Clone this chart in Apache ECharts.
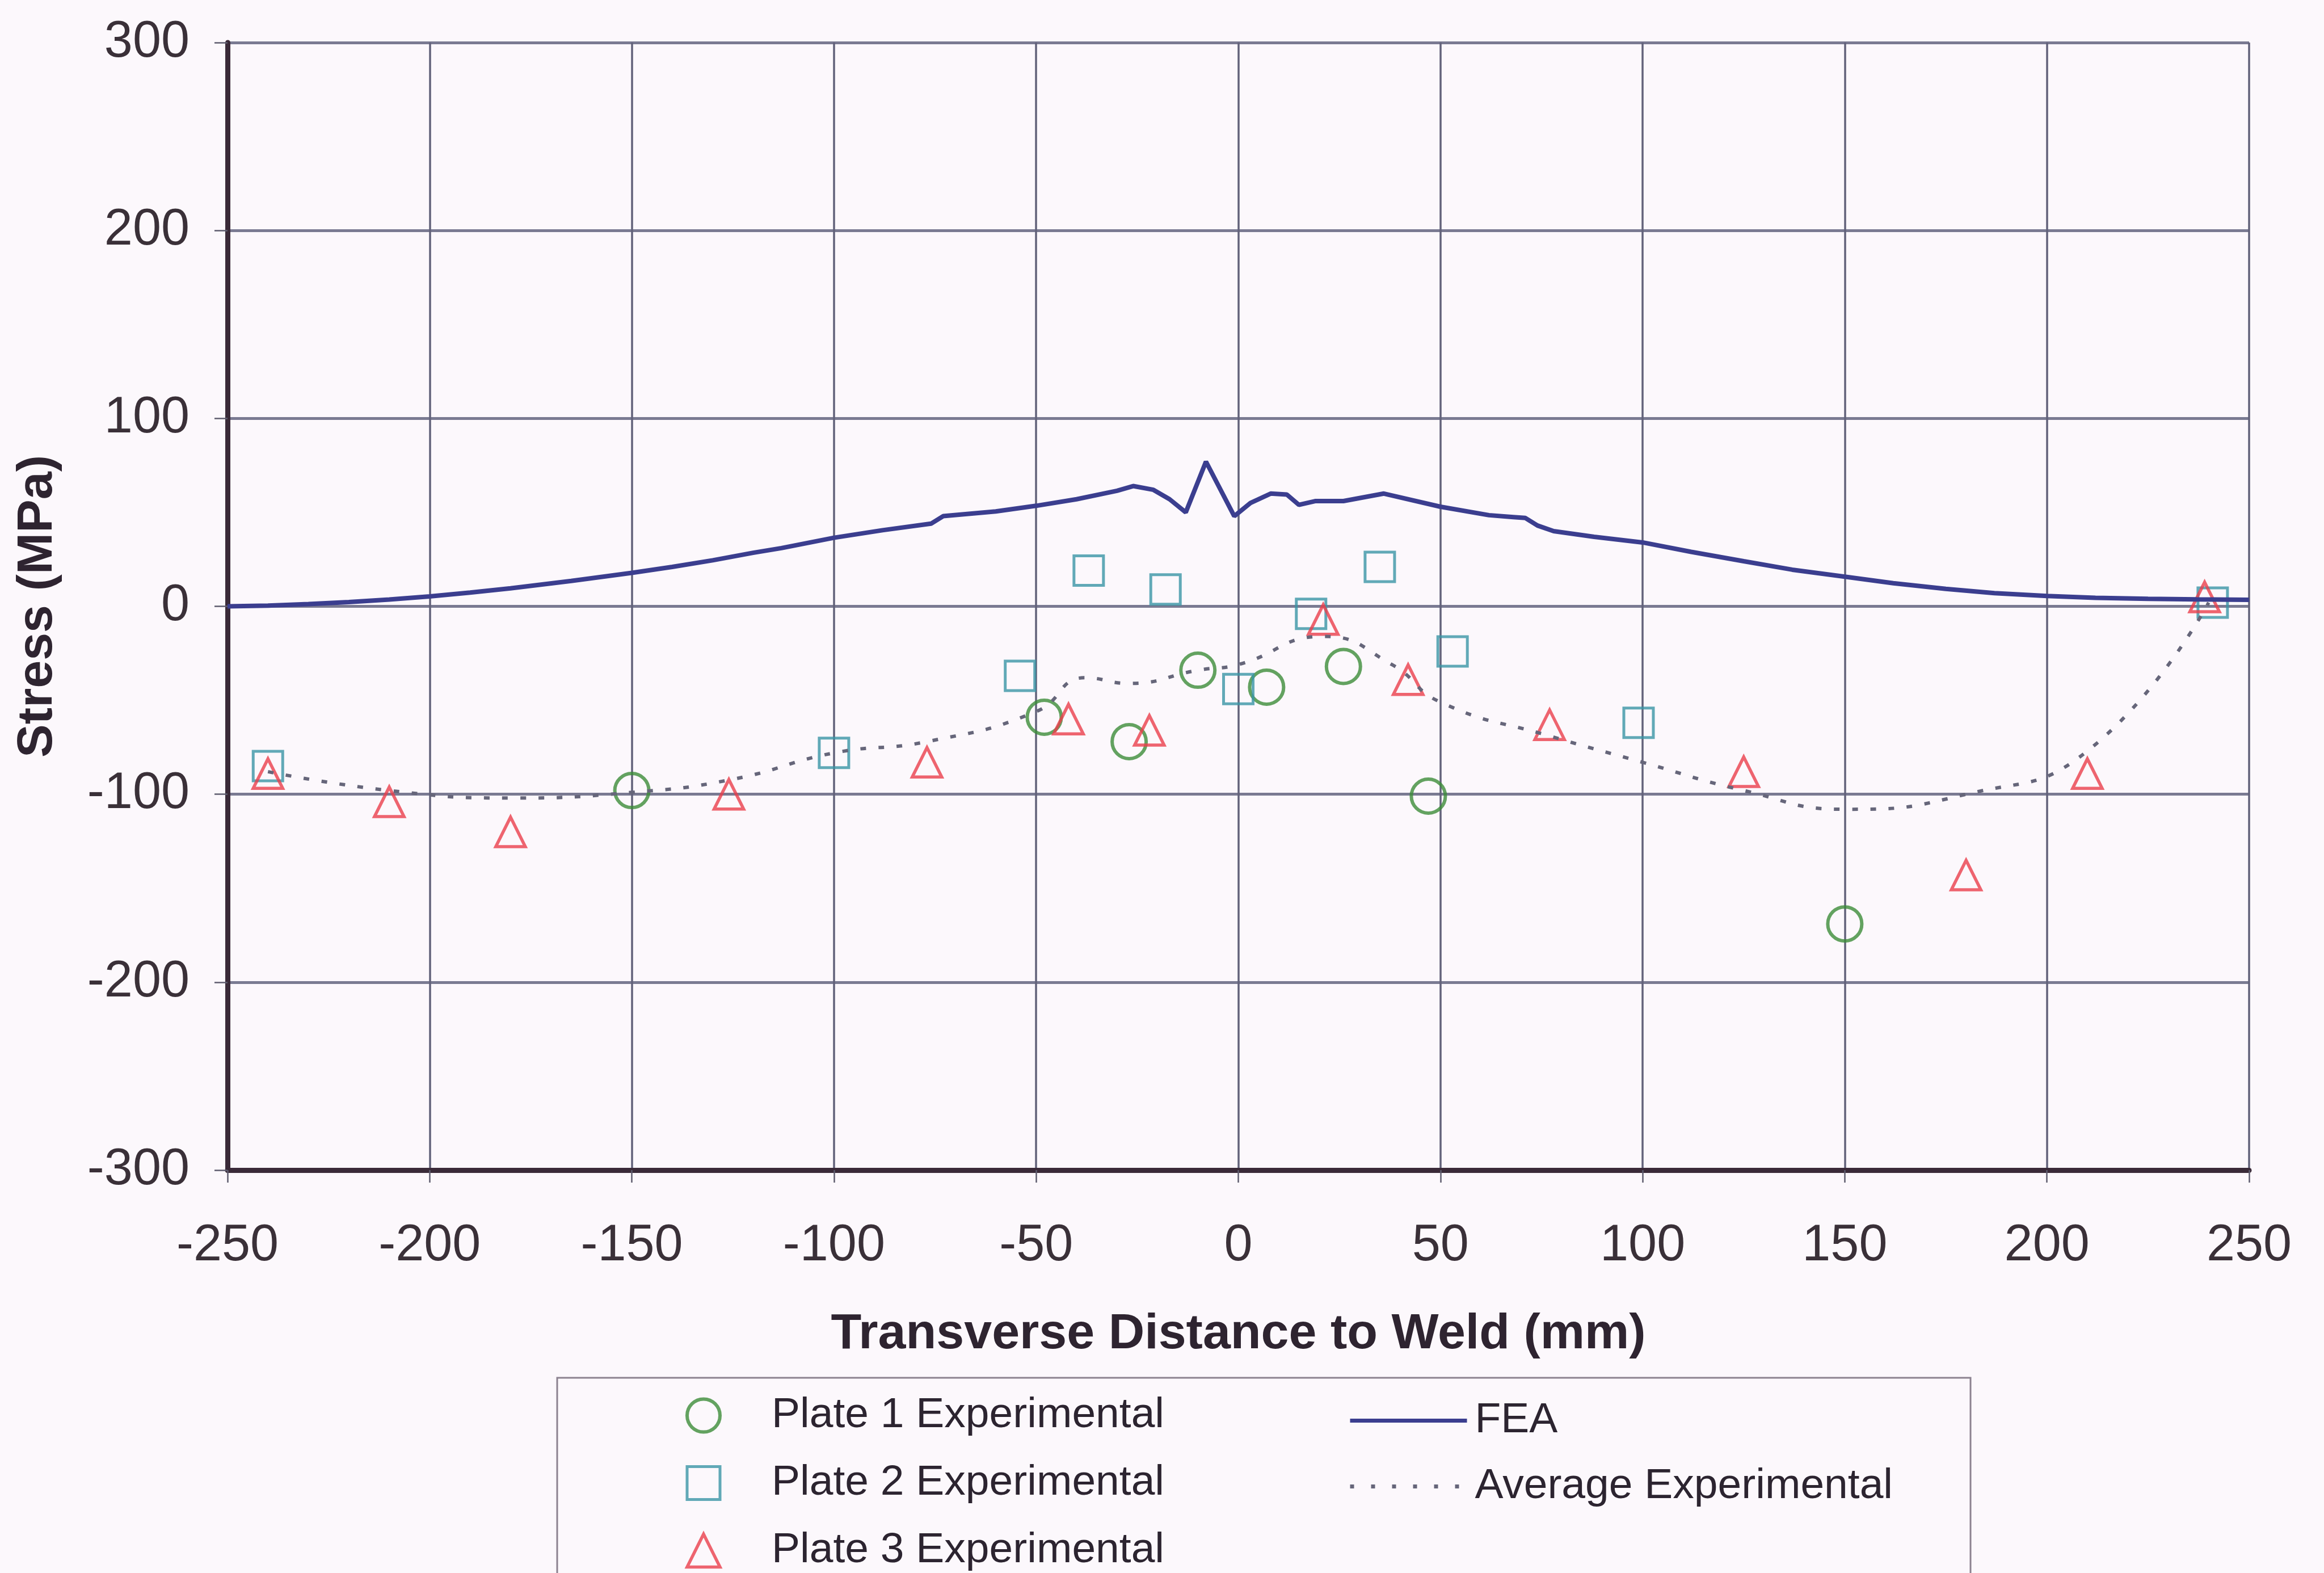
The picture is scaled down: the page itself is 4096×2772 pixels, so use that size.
<!DOCTYPE html>
<html>
<head>
<meta charset="utf-8">
<script src="https://cdn.jsdelivr.net/npm/echarts@6/dist/echarts.min.js"></script>
<style>
  html, body { margin: 0; padding: 0; background: #fcf8fc; }
  #chart { width: 4096px; height: 2772px; }
</style>
</head>
<body>
<div id="chart"></div>
<script>
// Measured residual stress, three plates (x = transverse distance in mm, y = stress in MPa)
const plate1X = [-150, -48, -27, -10, 7, 26, 47, 150];
const plate1Y = [-98, -59, -72, -34, -43, -32, -101, -169];

const plate2X = [-240, -100, -54, -37, -18, 0, 18, 35, 53, 99, 241];
const plate2Y = [-85, -78, -37, 19, 9, -44, -4, 21, -24, -62, 2];

const plate3X = [-240, -210, -180, -126, -77, -42, -22, 21, 42, 77, 125, 180, 210, 239];
const plate3Y = [-89, -104, -120, -100, -83, -60, -66, -7, -39, -63, -88, -143, -89, 5];

// Finite element prediction
const feaX = [-250, -240, -230, -220, -210, -200, -190, -180, -165, -150, -140, -130, -120, -113, -100, -88, -76, -73, -60, -50, -40, -30, -26, -21, -17, -13, -8, -1, 3, 8, 12, 15, 19, 26, 36, 50, 62, 68, 71, 74, 78, 88, 100, 112, 125, 137, 150, 162, 175, 187, 200, 212, 225, 237, 250];
const feaY = [0, 0.4, 1.2, 2.3, 3.6, 5.3, 7.3, 9.6, 13.5, 17.8, 21, 24.5, 28.5, 31, 36.5, 40.5, 44, 48, 50.5, 53.5, 57, 61.5, 64, 62, 57, 50, 77, 48, 55, 60, 59.5, 54, 56, 56, 60, 53, 48.5, 47.5, 47, 43, 40, 37, 34, 29, 24, 19.5, 15.8, 12.3, 9.3, 7, 5.5, 4.5, 4, 3.7, 3.5];

// Average of the experimental plates
const avgX = [-240, -210, -180, -150, -125, -100, -77, -50, -38, -27, -10, 0, 21, 38, 50, 77, 100, 125, 150, 180, 210, 240];
const avgY = [-88, -98, -102, -99, -92, -78, -72, -56, -38, -41, -34, -31, -16, -31, -51, -69, -83, -98, -108, -100, -77, 2];

const FONT = '"Liberation Sans", Arial, sans-serif';
const GREEN = '#3c8c38';
const TEAL = '#3a95a5';
const RED = '#ea3f4b';
const NAVY = '#3b3e8f';
const DOTS = '#66667a';
const INK = '#3a3038';

const pair = (xs, ys) => xs.map((x, i) => [x, ys[i]]);

const chart = echarts.init(document.getElementById('chart'), null, { renderer: 'canvas' });

chart.setOption({
  animation: false,
  backgroundColor: '#fcf8fc',
  grid: { left: 401, right: 132, top: 75, bottom: 710, containLabel: false },
  xAxis: {
    type: 'value', min: -250, max: 250, interval: 50,
    name: 'Transverse Distance to Weld (mm)',
    nameLocation: 'middle', nameGap: 246,
    nameTextStyle: { fontFamily: FONT, fontSize: 88, fontWeight: 'bold', color: '#2e2430' },
    axisLine: { show: true, onZero: false, lineStyle: { color: '#3a2a38', width: 9 } },
    axisTick: { show: true, inside: false, length: 22, lineStyle: { color: '#5e5c6e', width: 2.5 } },
    axisLabel: { margin: 89, fontFamily: FONT, fontSize: 90, color: INK },
    splitLine: { show: true, lineStyle: { color: '#62627a', width: 3.5 } }
  },
  yAxis: {
    type: 'value', min: -300, max: 300, interval: 100,
    name: 'Stress (MPa)',
    nameLocation: 'middle', nameGap: 290, nameRotate: 90,
    nameTextStyle: { fontFamily: FONT, fontSize: 88, fontWeight: 'bold', color: '#2e2430' },
    axisLine: { show: true, onZero: false, lineStyle: { color: '#3a2a38', width: 9 } },
    axisTick: { show: true, inside: false, length: 23, lineStyle: { color: '#5e5c6e', width: 2.5 } },
    axisLabel: { margin: 67, fontFamily: FONT, fontSize: 90, color: INK },
    splitLine: { show: true, lineStyle: { color: '#7a7a92', width: 5 } }
  },
  legend: [
    {
      orient: 'vertical', left: 1208, top: 2457, height: 340, padding: 0,
      itemWidth: 58, itemHeight: 58, itemGap: 44, selectedMode: false,
      textStyle: { fontFamily: FONT, fontSize: 75, color: '#2c2430', lineHeight: 60, padding: [0, 0, 0, 86] },
      data: [
        { name: 'Plate 1 Experimental', icon: 'circle', itemStyle: { color: 'rgba(0,0,0,0)', borderColor: GREEN, borderWidth: 6 } },
        { name: 'Plate 2 Experimental', icon: 'rect', itemStyle: { color: 'rgba(0,0,0,0)', borderColor: TEAL, borderWidth: 5 } },
        { name: 'Plate 3 Experimental', icon: 'triangle', itemStyle: { color: 'rgba(0,0,0,0)', borderColor: RED, borderWidth: 5.5 } }
      ]
    },
    {
      orient: 'vertical', left: 2376, top: 2466, height: 300, padding: 0,
      itemWidth: 206, itemHeight: 14, itemGap: 41, selectedMode: false,
      textStyle: { fontFamily: FONT, fontSize: 75, color: '#2c2430', lineHeight: 60, padding: [0, 0, 0, 9] },
      data: [
        { name: 'FEA', itemStyle: { color: NAVY, opacity: 0 }, lineStyle: { color: NAVY, width: 7, type: 'solid' } },
        { name: 'Average Experimental', itemStyle: { color: DOTS, opacity: 0 }, lineStyle: { color: DOTS, width: 7, type: [7, 30] } }
      ]
    }
  ],
  graphic: [
    {
      type: 'rect', silent: true, z: 0,
      shape: { x: 982, y: 2428, width: 2491, height: 500 },
      style: { fill: 'none', stroke: '#8c8290', lineWidth: 3 }
    }
  ],
  series: [
    {
      name: 'Plate 1 Experimental', type: 'scatter', symbol: 'circle', symbolSize: 60,
      data: pair(plate1X, plate1Y),
      itemStyle: { color: 'rgba(0,0,0,0)', borderColor: GREEN, borderWidth: 6 }, z: 3
    },
    {
      name: 'Plate 2 Experimental', type: 'scatter', symbol: 'rect', symbolSize: 52,
      data: pair(plate2X, plate2Y),
      itemStyle: { color: 'rgba(0,0,0,0)', borderColor: TEAL, borderWidth: 5 }, z: 3
    },
    {
      name: 'Plate 3 Experimental', type: 'scatter', symbol: 'triangle', symbolSize: 52,
      data: pair(plate3X, plate3Y),
      itemStyle: { color: 'rgba(0,0,0,0)', borderColor: RED, borderWidth: 5.5 }, z: 3
    },
    {
      name: 'FEA', type: 'line', symbol: 'none', showSymbol: false,
      data: pair(feaX, feaY),
      itemStyle: { color: NAVY },
      lineStyle: { color: NAVY, width: 8 }, z: 4
    },
    {
      name: 'Average Experimental', type: 'line', symbol: 'none', showSymbol: false, smooth: 0.5,
      data: pair(avgX, avgY),
      itemStyle: { color: DOTS },
      lineStyle: { color: DOTS, width: 6, type: [10, 22] }, z: 4
    }
  ]
});
</script>
</body>
</html>
